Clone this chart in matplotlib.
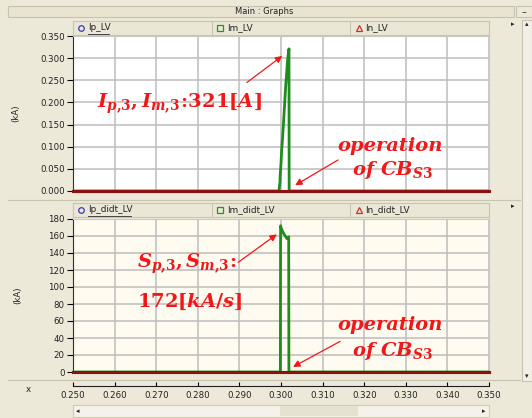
import matplotlib
matplotlib.use("Agg")
import matplotlib.pyplot as plt
from matplotlib.patches import Rectangle

# ---- data (time in s) ----
t_im = [0.250, 0.2995, 0.29976, 0.2998, 0.3000, 0.30016, 0.3004, 0.30064, 0.30088,
        0.30112, 0.30136, 0.30152, 0.30176, 0.30192, 0.30196, 0.350]
im_lv = [0.0, 0.0, 0.021, 0.035, 0.062, 0.093, 0.123, 0.160, 0.198,
         0.236, 0.266, 0.288, 0.311, 0.321, 0.0, 0.0]

t_imd = [0.250, 0.29985, 0.29990, 0.30000, 0.30050, 0.30090, 0.30140, 0.30165, 0.30185, 0.30190, 0.350]
im_didt = [0.0, 0.0, 172.0, 170.0, 164.0, 161.0, 157.0, 157.0, 159.0, 0.0, 0.0]

t_zero = [0.250, 0.350]
ip_lv = [0.0, 0.0]
in_lv = [0.0, 0.0]
ip_didt = [0.0, 0.0]
in_didt = [0.0, 0.0]

x_ticks = [0.25, 0.26, 0.27, 0.28, 0.29, 0.30, 0.31, 0.32, 0.33, 0.34, 0.35]
y1_ticks = [0.0, 0.05, 0.10, 0.15, 0.20, 0.25, 0.30, 0.35]
y2_ticks = [0, 20, 40, 60, 80, 100, 120, 140, 160, 180]
top_names = ["Ip_LV", "Im_LV", "In_LV"]
bot_names = ["Ip_didt_LV", "Im_didt_LV", "In_didt_LV"]

W, H = 532, 418
BG = "#ECE9D8"
GRID = "#BDBDBD"
GREEN = "#1E8C1E"
DRED = "#8B1010"
RED = "#F01818"

plt.rcParams["mathtext.fontset"] = "custom"
plt.rcParams["mathtext.it"] = "DejaVu Serif:italic:bold"
plt.rcParams["mathtext.rm"] = "DejaVu Serif:bold"
plt.rcParams["mathtext.bf"] = "DejaVu Serif:bold"


def fx(px):
    return px / W


def fy(py):
    return 1 - py / H


def box(x0, y0, x1, y1, **kw):
    # rectangle in pixel coordinates of the figure
    r = Rectangle((fx(x0), fy(y1)), (x1 - x0) / W, (y1 - y0) / H,
                  transform=fig.transFigure, **kw)
    fig.patches.append(r)


fig = plt.figure(figsize=(W / 100, H / 100), dpi=100, facecolor=BG)

# title bar
box(8, 6, 514, 17, facecolor="#E8E4D0", edgecolor="#C8C4B0", lw=0.8)
fig.text(fx(264), fy(11.5), "Main : Graphs", ha="center", va="center", fontsize=6, color="#222222")
box(516, 6, 532, 17, facecolor=BG, edgecolor="#C8C4B0", lw=0.8)
fig.text(fx(524), fy(12), "\u2013", ha="center", va="center", fontsize=7, color="#333333")

# right vertical scrollbar
box(522, 20, 532, 381, facecolor="#F2F0E6", edgecolor="#C8C4B0", lw=0.8)
fig.text(fx(527), fy(24), "\u25b4", ha="center", va="center", fontsize=5, color="#222222")
fig.text(fx(527), fy(376), "\u25be", ha="center", va="center", fontsize=5, color="#222222")
fig.text(fx(513), fy(24), "\u25b8", ha="center", va="center", fontsize=5, color="#222222")
fig.text(fx(513), fy(206), "\u25b8", ha="center", va="center", fontsize=5, color="#222222")

# panel separators
fig.add_artist(plt.Line2D([fx(8), fx(520)], [fy(200), fy(200)], color="#C8C4B0", lw=0.8))
fig.add_artist(plt.Line2D([fx(8), fx(520)], [fy(380), fy(380)], color="#C8C4B0", lw=0.8))

# bottom horizontal scrollbar
box(73, 405, 489, 417, facecolor="#F4F2EA", edgecolor="#D0CCB8", lw=0.8)
box(280, 406, 358, 416, facecolor="#E6E2D2", edgecolor="none")
fig.text(fx(78), fy(411), "\u25c2", ha="center", va="center", fontsize=5, color="#222222")
fig.text(fx(484), fy(411), "\u25b8", ha="center", va="center", fontsize=5, color="#222222")

ax1 = fig.add_axes([fx(73), fy(191), (489 - 73) / W, (191 - 36) / H])
ax2 = fig.add_axes([fx(73), fy(372), (489 - 73) / W, (372 - 219) / H])


def header(y0, y1, names):
    hx = fig.add_axes([fx(73), fy(y1), (489 - 73) / W, (y1 - y0) / H])
    hx.set_facecolor("#EAE7D6")
    hx.set_xlim(0, 3)
    hx.set_ylim(0, 1)
    hx.set_xticks([])
    hx.set_yticks([])
    for s in hx.spines.values():
        s.set_color("#C8C4B0")
        s.set_linewidth(0.8)
    hx.axvline(1, color="#C8C4B0", lw=0.8)
    hx.axvline(2, color="#C8C4B0", lw=0.8)
    marks = [("o", "#3838B8"), ("s", "#10A010"), ("^", "#C83030")]
    for i, (name, (m, c)) in enumerate(zip(names, marks)):
        hx.plot([i + 0.06], [0.52], marker=m, ms=4, mfc="none", mec=c, mew=0.9)
        hx.text(i + 0.11, 0.5, name, va="center", ha="left", fontsize=6.4, color="#222222")
    # first entry is underlined (selected)
    hx.plot([0.11, 0.11 + 0.0305 * len(names[0])], [0.1, 0.1], color="#222222", lw=0.6)


header(21, 35, top_names)
header(203, 217, bot_names)

for ax in (ax1, ax2):
    ax.set_xlim(0.25, 0.35)
    ax.set_xticks(x_ticks)
    ax.grid(True, color=GRID, lw=1.1)
    ax.set_axisbelow(True)
    for s in ("top", "right"):
        ax.spines[s].set_color("#C8C8C8")
    ax.spines["left"].set_color("#303030")
    ax.spines["left"].set_linewidth(0.8)
    ax.tick_params(axis="y", direction="out", length=4, width=0.8, pad=2,
                   labelsize=6.2, labelcolor="#222222")

# top panel
ax1.set_facecolor("white")
ax1.set_ylim(0, 0.35)
ax1.set_yticks(y1_ticks)
ax1.set_yticklabels(["%.3f" % v for v in y1_ticks])
ax1.tick_params(axis="x", length=0, labelbottom=False)
ax1.spines["bottom"].set_visible(False)
ax1.plot(t_im, im_lv, color=GREEN, lw=2, zorder=3)
ax1.plot(t_zero, ip_lv, color=DRED, lw=2.2, clip_on=False, zorder=4)
ax1.plot(t_zero, in_lv, color=DRED, lw=2.2, clip_on=False, zorder=4)
ax1.set_ylabel("(kA)", fontsize=6.2, color="#222222", labelpad=14)

# bottom panel
ax2.set_facecolor("#FFFBF0")
ax2.set_ylim(0, 180)
ax2.set_yticks(y2_ticks)
ax2.spines["bottom"].set_position(("outward", 10))
ax2.spines["bottom"].set_color("#202020")
ax2.tick_params(axis="x", direction="in", length=3, width=0.8, pad=4,
                labelsize=6.2, labelcolor="#222222")
ax2.set_xticklabels(["%.3f" % v for v in x_ticks])
ax2.plot(t_imd, im_didt, color=GREEN, lw=2, zorder=3)
ax2.plot(t_zero, ip_didt, color=DRED, lw=2.2, clip_on=False, zorder=4)
ax2.plot(t_zero, in_didt, color=DRED, lw=2.2, clip_on=False, zorder=4)
ax2.set_ylabel("(kA)", fontsize=6.2, color="#222222", labelpad=19)
fig.text(fx(28), fy(389), "x", ha="center", va="center", fontsize=6.2, color="#222222")

# annotations
FS = 14
arr = dict(arrowstyle="-|>", color=RED, lw=0.9, mutation_scale=10, shrinkA=0, shrinkB=0)
ax1.text(0.2558, 0.196, r"$I_{p{,}3}{,}\,I_{m{,}3}\!:\!321[A]$", color=RED, fontsize=FS,
         va="center", ha="left")
ax1.annotate("", xy=(0.3003, 0.305), xytext=(0.2918, 0.245), arrowprops=arr)
ax1.text(0.3262, 0.102, "operation", color=RED, fontsize=FS, ha="center", va="center",
         family="DejaVu Serif", style="italic", weight="bold")
ax1.text(0.3268, 0.048, r"$of\ CB_{S3}$", color=RED, fontsize=FS, ha="center", va="center")
ax1.annotate("", xy=(0.3034, 0.013), xytext=(0.3137, 0.070), arrowprops=arr)

ax2.text(0.2654, 127, r"$S_{p{,}3}{,}\,S_{m{,}3}\!:$", color=RED, fontsize=FS, va="center", ha="left")
ax2.text(0.2654, 83, r"$172[kA/s]$", color=RED, fontsize=FS, va="center", ha="left")
ax2.annotate("", xy=(0.2990, 162), xytext=(0.2897, 129), arrowprops=arr)
ax2.text(0.3262, 55, "operation", color=RED, fontsize=FS, ha="center", va="center",
         family="DejaVu Serif", style="italic", weight="bold")
ax2.text(0.3268, 25, r"$of\ CB_{S3}$", color=RED, fontsize=FS, ha="center", va="center")
ax2.annotate("", xy=(0.3029, 6), xytext=(0.3142, 36), arrowprops=arr)

fig.savefig("out.png", dpi=100, facecolor=BG)
